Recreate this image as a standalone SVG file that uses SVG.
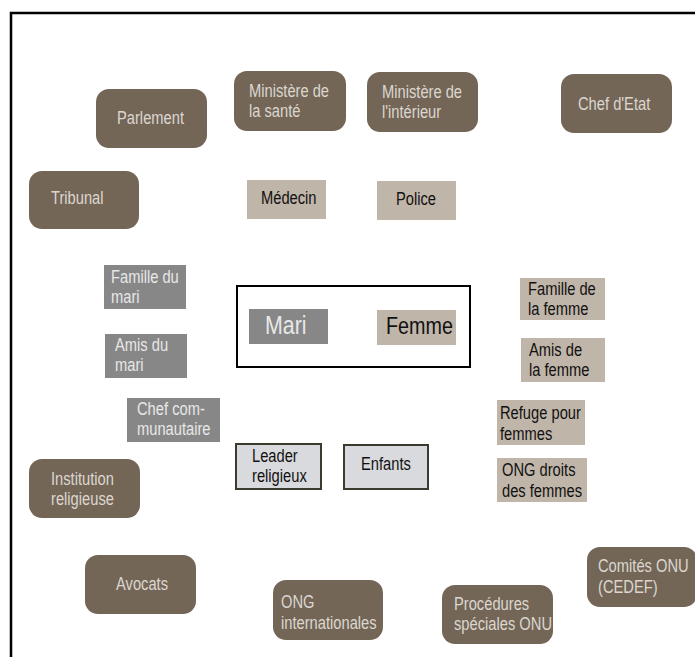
<svg xmlns="http://www.w3.org/2000/svg" width="695" height="657" viewBox="0 0 695 657">
  <style>
    text { font-family: "Liberation Sans", Arial, sans-serif; font-size: 17.5px; }
    .inst rect { fill: #736657; }
    .inst text { fill: #dcd6cf; }
    .tan rect { fill: #c0b5a9; }
    .tan text { fill: #111111; }
    .grey rect { fill: #878787; }
    .grey text { fill: #e8e8e8; }
    .core rect { fill: #d9dadd; stroke: #3b3a2e; stroke-width: 2; }
    .core text { fill: #111111; }
  </style>

  <rect width="695" height="657" fill="#ffffff"/>
  <!-- outer frame -->
  <rect x="11" y="13" width="700" height="660" fill="none" stroke="#000000" stroke-width="2.5"/>

  <!-- labels are set in a condensed cut: each text is narrowed with scale(0.84 1) -->

  <!-- institutions -->
  <g id="parlement" class="inst">
    <rect x="96" y="89" width="111" height="59" rx="13"/>
    <text transform="translate(117 124) scale(0.84 1)">Parlement</text>
  </g>
  <g id="ministere-sante" class="inst">
    <rect x="234" y="71" width="112" height="60" rx="13"/>
    <text transform="translate(249 97) scale(0.84 1)">Ministère de<tspan x="0" dy="20">la santé</tspan></text>
  </g>
  <g id="ministere-interieur" class="inst">
    <rect x="367" y="72" width="111" height="60" rx="13"/>
    <text transform="translate(382 98) scale(0.84 1)">Ministère de<tspan x="0" dy="20">l'intérieur</tspan></text>
  </g>
  <g id="chef-etat" class="inst">
    <rect x="561" y="74" width="111" height="59" rx="13"/>
    <text transform="translate(578 110) scale(0.84 1)">Chef d'Etat</text>
  </g>
  <g id="tribunal" class="inst">
    <rect x="29" y="171" width="110" height="58" rx="13"/>
    <text transform="translate(51 204) scale(0.84 1)">Tribunal</text>
  </g>
  <g id="institution-religieuse" class="inst">
    <rect x="29" y="459" width="111" height="59" rx="13"/>
    <text transform="translate(51 485) scale(0.84 1)">Institution<tspan x="0" dy="20">religieuse</tspan></text>
  </g>
  <g id="avocats" class="inst">
    <rect x="85" y="555" width="111" height="59" rx="13"/>
    <text transform="translate(116 590) scale(0.84 1)">Avocats</text>
  </g>
  <g id="ong-internationales" class="inst">
    <rect x="273" y="580" width="110" height="60" rx="13"/>
    <text transform="translate(281 608) scale(0.84 1)">ONG<tspan x="0" dy="21">internationales</tspan></text>
  </g>
  <g id="procedures-onu" class="inst">
    <rect x="442" y="585" width="111" height="59" rx="13"/>
    <text transform="translate(454 610) scale(0.84 1)">Procédures<tspan x="0" dy="20">spéciales ONU</tspan></text>
  </g>
  <g id="comites-onu" class="inst">
    <rect x="587" y="547" width="110" height="60" rx="13"/>
    <text transform="translate(598 572) scale(0.84 1)">Comités ONU<tspan x="0" dy="21">(CEDEF)</tspan></text>
  </g>

  <!-- local actors on the woman's side -->
  <g id="medecin" class="tan">
    <rect x="247" y="180" width="79" height="39"/>
    <text transform="translate(261 204) scale(0.84 1)">Médecin</text>
  </g>
  <g id="police" class="tan">
    <rect x="377" y="181" width="79" height="39"/>
    <text transform="translate(396 205) scale(0.84 1)">Police</text>
  </g>
  <g id="famille-femme" class="tan">
    <rect x="520" y="278" width="85" height="42"/>
    <text transform="translate(528 295) scale(0.84 1)">Famille de<tspan x="0" dy="20">la femme</tspan></text>
  </g>
  <g id="amis-femme" class="tan">
    <rect x="521" y="338" width="84" height="44"/>
    <text transform="translate(529 356) scale(0.84 1)">Amis de<tspan x="0" dy="20">la femme</tspan></text>
  </g>
  <g id="refuge" class="tan">
    <rect x="497" y="400" width="88" height="45"/>
    <text transform="translate(500 419) scale(0.84 1)">Refuge pour<tspan x="0" dy="21">femmes</tspan></text>
  </g>
  <g id="ong-droits-femmes" class="tan">
    <rect x="497" y="458" width="90" height="44"/>
    <text transform="translate(502 476) scale(0.84 1)">ONG droits<tspan x="0" dy="21">des femmes</tspan></text>
  </g>

  <!-- local actors on the husband's side -->
  <g id="famille-mari" class="grey">
    <rect x="104" y="265" width="82" height="44"/>
    <text transform="translate(111 283) scale(0.84 1)">Famille du<tspan x="0" dy="20">mari</tspan></text>
  </g>
  <g id="amis-mari" class="grey">
    <rect x="105" y="334" width="82" height="44"/>
    <text transform="translate(115 351) scale(0.84 1)">Amis du<tspan x="0" dy="20">mari</tspan></text>
  </g>
  <g id="chef-communautaire" class="grey">
    <rect x="127" y="398" width="93" height="44"/>
    <text transform="translate(137 415) scale(0.84 1)">Chef com-<tspan x="0" dy="20">munautaire</tspan></text>
  </g>

  <!-- couple -->
  <g id="couple">
    <rect x="237" y="286" width="233" height="81" fill="none" stroke="#000000" stroke-width="2"/>
  </g>
  <g id="mari" class="grey">
    <rect x="249" y="309" width="79" height="35"/>
    <text transform="translate(265 334) scale(0.84 1)" style="font-size:25.5px">Mari</text>
  </g>
  <g id="femme" class="tan">
    <rect x="377" y="310" width="79" height="35"/>
    <text transform="translate(386 334) scale(0.84 1)" style="font-size:23.5px">Femme</text>
  </g>

  <!-- household -->
  <g id="leader-religieux" class="core">
    <rect x="236" y="444" width="85" height="45"/>
    <text transform="translate(252 462) scale(0.84 1)">Leader<tspan x="0" dy="20">religieux</tspan></text>
  </g>
  <g id="enfants" class="core">
    <rect x="344" y="445" width="84" height="44"/>
    <text transform="translate(361 470) scale(0.84 1)">Enfants</text>
  </g>

  <g id="connectors"/>
</svg>
